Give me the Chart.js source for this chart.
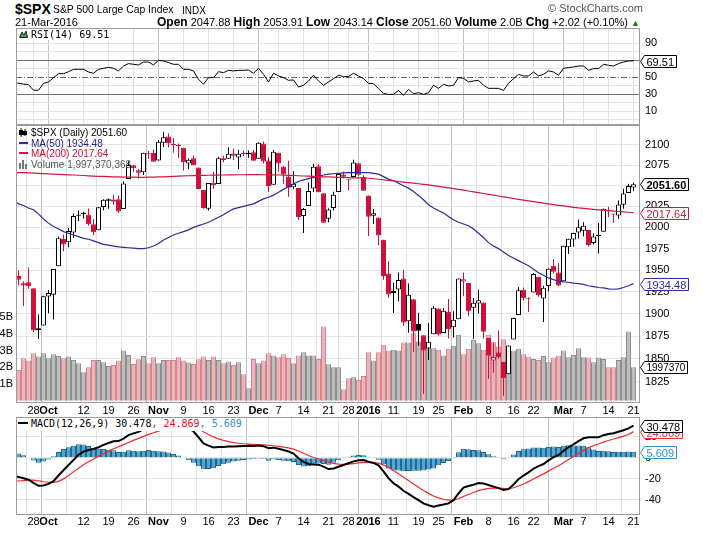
<!DOCTYPE html>
<html>
<head>
<meta charset="utf-8">
<title>$SPX</title>
<script src="https://cdn.jsdelivr.net/npm/chart.js@4.4.0/dist/chart.umd.min.js"></script>
<style>
  html, body { margin: 0; padding: 0; background: #fff; }
  body { position: relative; width: 703px; height: 534px; overflow: hidden;
         font-family: "Liberation Sans", Arial, sans-serif; color: #000; }
  canvas { position: absolute; left: 0; }
  .t { position: absolute; white-space: nowrap; line-height: 1; }
  .mono { position: absolute; white-space: nowrap; font-family: "DejaVu Sans Mono", monospace; font-size: 10px; line-height: 11px; }
  .leg { position: absolute; white-space: nowrap; font-size: 10px; line-height: 11px; }
  .dash { display: inline-block; width: 9px; height: 2px; vertical-align: middle; margin-right: 3px; position: relative; top: -1px; }
  svg { vertical-align: middle; position: relative; top: -1px; margin-right: 3px; }
</style>
</head>
<body>
<canvas id="rsi" width="703" height="100" style="top:26px"></canvas>
<canvas id="price" width="703" height="300" style="top:120px"></canvas>
<canvas id="macd" width="703" height="119" style="top:415px"></canvas>

<div class="t" style="left:15px;top:2px;font-size:14px;font-weight:bold">$SPX</div>
<div class="t" style="left:53px;top:5px;font-size:10.4px">S&amp;P 500 Large Cap Index</div>
<div class="t" style="left:182px;top:6px;font-size:10px">INDX</div>
<div class="t" style="left:548px;top:3px;font-size:11px;color:#555">&copy; StockCharts.com</div>
<div class="t" style="left:15px;top:17px;font-size:11px">21-Mar-2016</div>
<div class="t" style="left:157px;top:16px;font-size:11px"><b style="font-size:12px">Open</b> 2047.88 <b style="font-size:12px">High</b> 2053.91 <b style="font-size:12px">Low</b> 2043.14 <b style="font-size:12px">Close</b> 2051.60 <b style="font-size:12px">Volume</b> 2.0B <b style="font-size:12px">Chg</b> +2.02 (+0.10%) <span style="color:#1f7a1f;font-size:9px">&#9650;</span></div>

<div class="mono" style="left:19px;top:29px;background:#fff;padding-right:2px"><svg width="9" height="8"><path d="M0.5 7.5 L3 2 L5 5 L7 1 L8.5 7.5 Z" fill="#4c9a4c" stroke="#222" stroke-width="1"/></svg>RSI(14) 69.51</div>

<div class="leg" style="left:19px;top:127px"><svg width="9" height="9"><path d="M2 0 V9 M6 1 V8" stroke="#000"/><rect x="0.5" y="2.5" width="3" height="4" fill="#000" stroke="#000"/><rect x="4.5" y="3.5" width="3" height="3" fill="#000" stroke="#000"/></svg>$SPX (Daily) 2051.60</div>
<div class="leg" style="left:19px;top:138px;color:#23238f"><span class="dash" style="background:#2b2b9e"></span>MA(50) 1934.48</div>
<div class="leg" style="left:19px;top:148px;color:#cc1136"><span class="dash" style="background:#d6163c"></span>MA(200) 2017.64</div>
<div class="leg" style="left:19px;top:159px;color:#555"><svg width="9" height="9"><rect x="0" y="3" width="2" height="6" fill="#777"/><rect x="3" y="0" width="2" height="9" fill="#777"/><rect x="6" y="4" width="2" height="5" fill="#777"/></svg>Volume 1,997,370,368</div>

<div class="mono" style="left:17px;top:418px;height:13px;background:#fff;padding-right:3px"><span class="dash" style="background:#000;width:10px;margin-left:1px"></span>MACD(12,26,9) 30.478<span style="color:#e8101a">, 24.869</span><span style="color:#2f8fc4">, 5.609</span></div>

<script>
// trading days shown, Sep 22 2015 (clipped at the left edge) to Mar 21 2016
const MONTHS = [
  ['Sep', [22, 23, 24, 25, 28, 29, 30]],
  ['Oct', [1, 2, 5, 6, 7, 8, 9, 12, 13, 14, 15, 16, 19, 20, 21, 22, 23, 26, 27, 28, 29, 30]],
  ['Nov', [2, 3, 4, 5, 6, 9, 10, 11, 12, 13, 16, 17, 18, 19, 20, 23, 24, 25, 27, 30]],
  ['Dec', [1, 2, 3, 4, 7, 8, 9, 10, 11, 14, 15, 16, 17, 18, 21, 22, 23, 24, 28, 29, 30, 31]],
  ['Jan', [4, 5, 6, 7, 8, 11, 12, 13, 14, 15, 19, 20, 21, 22, 25, 26, 27, 28, 29]],
  ['Feb', [1, 2, 3, 4, 5, 8, 9, 10, 11, 12, 16, 17, 18, 19, 22, 23, 24, 25, 26, 29]],
  ['Mar', [1, 2, 3, 4, 7, 8, 9, 10, 11, 14, 15, 16, 17, 18, 21]]
];
const DATES = MONTHS.flatMap(([m, days]) => days.map(d => m + ' ' + d));

const TICK_DATES = ['Sep 28', 'Oct 1', 'Oct 12', 'Oct 19', 'Oct 26', 'Nov 2', 'Nov 9', 'Nov 16', 'Nov 23',
  'Dec 1', 'Dec 7', 'Dec 14', 'Dec 21', 'Dec 28', 'Jan 4', 'Jan 11', 'Jan 19', 'Jan 25', 'Feb 1', 'Feb 8',
  'Feb 16', 'Feb 22', 'Mar 1', 'Mar 7', 'Mar 14', 'Mar 21'];
const TICK_TEXT = ['28', 'Oct', '12', '19', '26', 'Nov', '9', '16', '23', 'Dec', '7', '14', '21', '28',
  '2016', '11', '19', '25', 'Feb', '8', '16', '22', 'Mar', '7', '14', '21'];
const MONTH_TICKS = ['Oct', 'Nov', 'Dec', '2016', 'Feb', 'Mar'];

const OPEN = [1961.39, 1943.24, 1934.81, 1935.93, 1929.18, 1881.90, 1887.14,
  1919.65, 1921.77, 1954.33, 1986.63, 1982.34, 1994.01, 2013.73, 2015.65, 2015.00, 2003.66, 1996.47, 2024.37, 2031.73, 2033.13, 2033.47, 2021.88, 2058.19, 2075.08, 2068.75, 2066.48, 2088.35, 2090.00,
  2080.76, 2102.63, 2110.60, 2101.68, 2098.60, 2096.56, 2077.19, 2083.41, 2072.29, 2044.64, 2022.08, 2053.67, 2051.99, 2083.70, 2082.82, 2089.41, 2084.42, 2089.30, 2088.82, 2090.95,
  2082.93, 2101.71, 2080.71, 2051.24, 2090.42, 2073.39, 2061.17, 2047.93, 2047.27, 2013.37, 2025.55, 2046.50, 2073.76, 2040.81, 2010.27, 2023.15, 2042.20, 2063.52, 2057.77, 2060.54, 2077.34, 2060.59,
  2038.20, 2013.78, 2011.71, 1985.32, 1945.97, 1926.12, 1927.83, 1940.34, 1891.68, 1916.68, 1888.66, 1876.18, 1861.46, 1877.40, 1906.28, 1878.79, 1902.52, 1885.22, 1894.00,
  1936.94, 1935.26, 1907.07, 1911.67, 1913.07, 1873.25, 1848.46, 1857.10, 1847.00, 1833.40, 1871.44, 1898.80, 1927.57, 1916.74, 1924.44, 1942.38, 1917.56, 1931.87, 1954.95, 1947.13,
  1937.09, 1976.60, 1985.60, 1994.01, 1996.11, 1996.88, 1981.44, 1990.97, 1994.71, 2019.27, 2015.27, 2014.24, 2026.90, 2041.16, 2047.88];
const HIGH = [1961.39, 1949.52, 1937.17, 1952.89, 1929.18, 1899.48, 1920.53,
  1927.21, 1951.36, 1989.17, 1991.62, 1999.31, 2016.50, 2020.13, 2018.66, 2022.34, 2009.56, 2024.15, 2033.54, 2034.45, 2039.12, 2037.97, 2055.20, 2079.74, 2075.14, 2070.37, 2090.35, 2092.52, 2094.32,
  2106.20, 2116.48, 2114.59, 2108.78, 2101.91, 2096.56, 2083.67, 2086.94, 2072.29, 2044.64, 2053.22, 2066.69, 2085.31, 2086.74, 2097.06, 2095.61, 2094.12, 2093.00, 2093.29, 2093.81,
  2103.37, 2104.27, 2085.00, 2093.84, 2090.42, 2073.85, 2080.33, 2067.65, 2047.27, 2022.92, 2053.87, 2076.72, 2076.37, 2040.81, 2022.90, 2042.74, 2064.73, 2067.36, 2057.77, 2081.56, 2077.34, 2062.54,
  2038.20, 2021.94, 2011.71, 1985.32, 1960.40, 1935.65, 1947.38, 1950.33, 1934.47, 1916.68, 1901.44, 1876.18, 1889.85, 1908.85, 1906.28, 1906.73, 1916.99, 1902.96, 1940.24,
  1947.20, 1935.26, 1918.01, 1927.35, 1913.07, 1873.25, 1868.25, 1881.60, 1847.00, 1864.78, 1895.77, 1930.68, 1930.00, 1918.78, 1946.70, 1942.38, 1932.08, 1951.83, 1962.96, 1958.27,
  1978.35, 1986.51, 1993.69, 2009.13, 2006.12, 1996.88, 1992.69, 2005.08, 2022.37, 2024.57, 2015.94, 2032.02, 2046.24, 2052.36, 2053.91];
const LOW = [1929.22, 1932.57, 1908.92, 1928.57, 1879.21, 1871.91, 1887.14,
  1900.70, 1893.70, 1954.33, 1971.99, 1976.44, 1987.53, 2007.61, 2010.55, 2001.78, 1990.73, 1996.47, 2020.46, 2022.31, 2026.61, 2017.22, 2021.88, 2058.19, 2066.53, 2058.84, 2063.11, 2082.63, 2079.34,
  2080.76, 2097.51, 2096.98, 2090.41, 2083.74, 2068.24, 2069.91, 2074.85, 2045.66, 2022.02, 2019.94, 2045.90, 2051.99, 2078.76, 2082.82, 2081.39, 2070.29, 2086.30, 2084.13, 2080.41,
  2082.93, 2077.11, 2042.35, 2051.24, 2066.78, 2052.32, 2036.53, 2045.67, 2008.80, 1993.26, 2025.55, 2042.43, 2041.66, 2005.33, 2005.93, 2020.49, 2042.20, 2058.73, 2044.20, 2060.54, 2061.97, 2043.62,
  1989.68, 2004.17, 1979.05, 1938.83, 1918.46, 1901.10, 1914.35, 1886.41, 1878.93, 1857.83, 1864.60, 1812.29, 1848.98, 1877.40, 1875.97, 1878.79, 1872.70, 1873.65, 1894.00,
  1920.03, 1897.29, 1872.23, 1900.52, 1872.65, 1828.46, 1834.94, 1850.32, 1810.10, 1833.40, 1871.44, 1898.80, 1915.09, 1902.17, 1924.44, 1919.44, 1891.00, 1925.41, 1945.78, 1931.81,
  1937.09, 1968.80, 1977.37, 1986.77, 1989.38, 1977.43, 1979.84, 1969.25, 1994.71, 2012.05, 2005.23, 2010.04, 2022.16, 2041.16, 2043.14];
const CLOSE = [1942.74, 1938.76, 1932.24, 1931.34, 1881.77, 1884.09, 1920.03,
  1923.82, 1951.36, 1987.05, 1979.92, 1995.83, 2013.43, 2014.89, 2017.46, 2003.69, 1994.24, 2023.86, 2033.11, 2033.66, 2030.77, 2018.94, 2052.51, 2075.15, 2071.18, 2065.89, 2090.35, 2089.41, 2079.36,
  2104.05, 2109.79, 2102.31, 2099.93, 2099.20, 2078.58, 2081.72, 2075.00, 2045.97, 2023.04, 2053.19, 2050.44, 2083.58, 2081.24, 2089.17, 2086.59, 2089.14, 2088.87, 2090.11, 2080.41,
  2102.63, 2079.51, 2049.62, 2091.69, 2077.07, 2063.59, 2047.62, 2052.23, 2012.37, 2021.94, 2043.41, 2073.07, 2041.89, 2005.55, 2021.15, 2038.97, 2064.29, 2060.99, 2056.50, 2078.36, 2063.36, 2043.94,
  2012.66, 2016.71, 1990.26, 1943.09, 1922.03, 1923.67, 1938.68, 1890.28, 1921.84, 1880.33, 1881.33, 1859.33, 1868.99, 1906.90, 1877.08, 1903.63, 1882.95, 1893.36, 1940.24,
  1939.38, 1903.03, 1912.53, 1915.45, 1880.05, 1853.44, 1852.21, 1851.86, 1829.08, 1864.78, 1895.58, 1926.82, 1917.83, 1917.78, 1945.50, 1921.27, 1929.80, 1951.70, 1948.05, 1932.23,
  1978.35, 1986.45, 1993.40, 1999.99, 2001.76, 1979.26, 1989.26, 1989.57, 2022.19, 2019.64, 2015.93, 2027.22, 2040.59, 2049.58, 2051.60];
// volume, billions of shares
const VOLUME = [2.9, 1.84, 2.54, 2.4, 2.84, 2.64, 2.84,
  2.54, 2.78, 2.68, 2.54, 2.64, 2.44, 2.24, 1.7, 2.0, 2.44, 2.44, 2.3, 2.08, 2.14, 2.4, 3.0, 2.74, 2.2, 2.48, 2.68, 2.24, 2.6,
  2.24, 2.44, 2.44, 2.44, 2.6, 2.4, 2.28, 2.2, 2.48, 2.64, 2.44, 2.64, 2.44, 2.24, 2.34, 2.14, 2.3, 1.58, 0.74, 2.5,
  2.24, 2.4, 2.84, 2.7, 2.6, 2.78, 2.56, 2.24, 2.7, 2.9, 2.7, 2.7, 2.5, 4.44, 2.18, 2.0, 2.0, 0.68, 1.34, 1.4, 1.24, 1.48,
  2.9, 2.4, 2.9, 3.34, 3.0, 3.04, 3.0, 3.48, 3.48, 4.04, 3.54, 3.84, 3.4, 3.14, 3.04, 2.7, 3.1, 3.28, 3.94,
  2.78, 3.1, 3.64, 3.44, 3.04, 3.94, 3.5, 3.24, 3.68, 2.9, 3.0, 3.1, 2.78, 2.64, 2.5, 2.44, 2.68, 2.3, 2.58, 2.7,
  3.0, 2.6, 2.74, 3.14, 2.6, 2.58, 2.3, 2.58, 2.5, 2.0, 2.0, 2.44, 2.6, 4.14, 1.99737];
const MA50 = [2033, 2028, 2026, 2023, 2021, 2016, 2010, 2005, 2001, 1998,
  1995, 1993, 1991, 1989, 1987, 1986, 1984, 1982, 1980, 1979,
  1978, 1977, 1976.5, 1976, 1975.5, 1975, 1975, 1976, 1978, 1981,
  1985, 1988, 1991, 1993, 1995, 1997, 2000, 2002, 2004, 2006,
  2009, 2012, 2015, 2019, 2022, 2023.5, 2025, 2026.5, 2028, 2031,
  2034, 2036, 2038.5, 2042, 2045.5, 2049, 2052, 2055, 2057, 2058.5,
  2060, 2061.5, 2063, 2064, 2064.5, 2065, 2065.5, 2066, 2066, 2066,
  2066, 2066, 2065, 2064, 2061, 2058, 2056, 2053, 2050, 2047,
  2043, 2038, 2033, 2027, 2023, 2020, 2017, 2013, 2009, 2006,
  2004, 2002, 1998, 1993, 1988, 1982, 1978, 1975, 1971, 1967,
  1964, 1961, 1958, 1955, 1951, 1947, 1944, 1941, 1939, 1937.5,
  1936.5, 1936, 1935, 1934.5, 1933.5, 1932, 1931, 1930, 1929.5, 1928.5,
  1928, 1928.5, 1930, 1932, 1934.48];
const MA200 = [2066, 2066, 2065.8, 2065.5, 2065.2, 2065, 2064.7, 2064.4, 2064.1, 2063.8,
  2063.5, 2063.2, 2063, 2062.7, 2062.4, 2062, 2061.7, 2061.4, 2061.2, 2061,
  2060.8, 2060.6, 2060.5, 2060.4, 2060.3, 2060.2, 2060.2, 2060.3, 2060.4, 2060.6,
  2060.8, 2061, 2061.3, 2061.6, 2061.9, 2062.1, 2062.3, 2062.5, 2062.6, 2062.7,
  2062.8, 2062.9, 2063, 2063.1, 2063.2, 2063.3, 2063.3, 2063.4, 2063.4, 2063.4,
  2063.3, 2063.2, 2063.1, 2063, 2062.8, 2062.6, 2062.4, 2062.1, 2061.8, 2061.6,
  2061.4, 2061.1, 2060.8, 2060.6, 2060.4, 2060.2, 2060, 2059.8, 2059.6, 2059.5,
  2059.4, 2059, 2058.4, 2057.8, 2057.2, 2056.5, 2055.8, 2055, 2054.4, 2053.7,
  2053, 2052.3, 2051.6, 2051, 2050.1, 2049.2, 2048.3, 2047.4, 2046.5, 2045.5,
  2044.5, 2043.5, 2042.5, 2041.5, 2040.5, 2039.5, 2038.5, 2037.5, 2036.5, 2035.5,
  2034.5, 2033.5, 2032.6, 2031.7, 2030.8, 2029.9, 2029, 2028, 2027.2, 2026.3,
  2025.5, 2024.7, 2023.9, 2023.1, 2022.5, 2021.9, 2021.4, 2020.9, 2020.4, 2019.9,
  2019.4, 2018.9, 2018.5, 2018, 2017.64];
const RSI = [44, 43, 42, 41.4, 34.8, 34.8, 42.9, 44.5, 49.6, 54.3,
  54.3, 56.6, 59.4, 59.4, 59.4, 56.3, 54.7, 59.4, 60.6, 61.8,
  60.6, 57.5, 63.3, 66.1, 65.3, 64.5, 68.0, 68.0, 64.5, 70.0,
  69.2, 67.3, 65.3, 65.3, 59.4, 59.4, 57.5, 47.7, 41.8, 49.6,
  49.6, 56.6, 55.5, 58.2, 57.5, 58.2, 58.2, 58.6, 54.7, 60.6,
  53.5, 44.5, 54.7, 51.6, 49.6, 46.5, 46.9, 38.6, 40.6, 45.7,
  52.4, 45.7, 40.6, 44.5, 48.4, 52.4, 50.8, 50.8, 54.7, 51.6,
  48.4, 42.9, 42.5, 36.6, 31.1, 29.9, 29.9, 34.6, 28.7, 35.8,
  30.7, 31.9, 29.9, 31.9, 40.6, 37.0, 41.8, 39.8, 40.6, 49.6,
  48.8, 44.5, 45.7, 46.5, 40.6, 37.0, 37.0, 37.0, 34.6, 42.9,
  48.4, 53.5, 51.6, 51.6, 56.3, 51.6, 53.5, 57.5, 56.3, 52.4,
  60.6, 61.4, 62.2, 63.3, 63.3, 58.2, 60.2, 60.2, 65.3, 64.1,
  63.3, 66.1, 68.0, 69.2, 69.51];
const MACD = [-17.5, -18.3, -19.5, -21.0, -24.0, -26.8, -26.5, -25.0, -22.3, -17.0,
  -12.0, -7.0, -2.2, 2.8, 5.8, 7.3, 8.3, 10.0, 12.2, 14.0,
  15.6, 15.9, 18.2, 21.5, 23.2, 24.6, 27.0, 29.5, 30.5, 31.5,
  33.0, 33.5, 33.5, 33.0, 31.5, 28.5, 25.0, 19.5, 13.7, 11.5,
  9.8, 10.2, 10.2, 10.6, 10.8, 11.0, 11.2, 11.4, 11.2, 11.6,
  11.0, 9.0, 9.6, 8.6, 7.3, 6.0, 4.0, -0.5, -4.0, -6.0,
  -6.5, -6.6, -8.5, -10.8, -10.2, -8.6, -7.0, -5.3, -3.5, -2.4,
  -2.2, -3.8, -5.0, -7.2, -13.0, -19.5, -24.4, -27.5, -31.5, -34.5,
  -37.5, -40.5, -43.5, -45.3, -46.7, -45.5, -44.6, -43.5, -40.5, -34.0,
  -28.5, -27.0, -25.8, -24.2, -24.6, -26.0, -27.6, -29.0, -30.8, -30.0,
  -25.5, -20.5, -17.0, -14.0, -10.5, -8.0, -6.0, -2.5, 0.5, 2.5,
  6.5, 10.0, 12.8, 15.8, 18.5, 19.4, 19.4, 19.4, 21.5, 22.6,
  23.3, 24.8, 26.2, 28.0, 30.478];
const SIGNAL = [-22.4, -22.2, -21.8, -21.4, -21.3, -22.0, -22.9, -23.4, -23.6, -22.5,
  -20.2, -17.0, -13.5, -10.0, -6.8, -3.8, -1.2, 1.5, 4.0, 6.5,
  8.5, 10.5, 12.5, 14.5, 16.5, 18.4, 20.3, 22.2, 23.8, 25.4,
  27.0, 28.6, 30.0, 31.0, 31.5, 31.0, 29.8, 27.6, 24.8, 22.2,
  19.8, 18.0, 16.5, 15.3, 14.4, 13.8, 13.3, 13.0, 12.7, 12.5,
  12.3, 11.8, 11.4, 10.8, 10.1, 9.3, 8.2, 6.4, 4.3, 2.1,
  0.2, -1.2, -2.6, -4.2, -5.4, -6.1, -6.3, -6.1, -5.6, -5.0,
  -4.5, -4.4, -4.6, -5.2, -6.8, -9.3, -12.3, -15.4, -18.6, -21.8,
  -25.0, -28.1, -31.2, -34.0, -36.5, -38.3, -39.6, -40.4, -40.4, -39.1,
  -37.0, -35.0, -33.2, -31.4, -30.1, -29.3, -29.0, -29.0, -29.3, -29.4,
  -28.6, -27.0, -25.0, -22.8, -20.3, -17.8, -15.4, -12.8, -10.1, -7.6,
  -4.8, -1.8, 1.1, 4.1, 7.0, 9.5, 11.5, 13.1, 14.8, 16.4,
  17.8, 19.2, 20.6, 22.1, 24.869];
const HIST = [4.9, 3.9, 2.3, 0.4, -2.7, -4.8, -3.6, -1.6, 1.3, 5.5,
  8.2, 10.0, 11.3, 12.8, 12.6, 11.1, 9.5, 8.5, 8.2, 7.5,
  7.1, 5.4, 5.7, 7.0, 6.7, 6.2, 6.7, 7.3, 6.7, 6.1,
  6.0, 4.9, 3.5, 2.0, 0.0, -2.5, -4.8, -8.1, -11.1, -10.7,
  -10.0, -7.8, -6.3, -4.7, -3.6, -2.8, -2.1, -1.6, -1.5, -0.9,
  -1.3, -2.8, -1.8, -2.2, -2.8, -3.3, -4.2, -6.9, -8.3, -8.1,
  -6.7, -5.4, -5.9, -6.6, -4.8, -2.5, -0.7, 0.8, 2.1, 2.6,
  2.3, 0.6, -0.4, -2.0, -6.2, -10.2, -12.1, -12.1, -12.9, -12.7,
  -12.5, -12.4, -12.3, -11.3, -10.2, -7.2, -5.0, -3.1, -0.1, 5.1,
  8.5, 8.0, 7.4, 7.2, 5.5, 3.3, 1.4, 0.0, -1.5, -0.6,
  3.1, 6.5, 8.0, 8.8, 9.8, 9.8, 9.4, 10.3, 10.6, 10.1,
  11.3, 11.8, 11.7, 11.7, 11.5, 9.9, 7.9, 6.3, 6.7, 6.2,
  5.5, 5.6, 5.6, 5.9, 5.609];

const PRICE_TICKS = [1825, 1850, 1875, 1900, 1925, 1950, 1975, 2000, 2025, 2050, 2075, 2100];
const VOLUME_TICKS = [1, 2, 3, 4, 5];
const RSI_TICKS = [0, 10, 20, 30, 40, 50, 60, 70, 80, 90];
const MACD_TICKS = [-40, -20, 0, 20];

const RED = '#d0103a';
const MA50_COLOR = '#2b2b9e';
const MA200_COLOR = '#d6163c';
const SIGNAL_COLOR = '#f22a2a';
const HIST_COLOR = '#2f8fc4';
const GRID = '#e3e3e3';
const GRID_MONTH = '#c2c2c2';
const FONT = '"Liberation Sans", Arial, sans-serif';

Chart.defaults.font.family = FONT;
Chart.defaults.font.size = 11;
Chart.defaults.color = '#000';

const X_MIN = 0.5, X_MAX = 125.3;
const tickIdx = TICK_DATES.map(d => DATES.indexOf(d));
const tickText = new Map(tickIdx.map((v, k) => [v, TICK_TEXT[k]]));
const isMonthTick = v => MONTH_TICKS.includes(tickText.get(v));
const pts = arr => arr.map((y, x) => ({ x, y }));

// fixed axis sizes so every panel lines up with the picture
const fixHeight = h => s => { s.height = h; s.paddingLeft = 0; s.paddingRight = 0; };
const fixWidth = w => s => { s.width = w; s.paddingTop = 0; s.paddingBottom = 0; };

function timeAxis(height, pad) {
  return {
    type: 'linear', min: X_MIN, max: X_MAX, offset: false,
    afterBuildTicks: s => { s.ticks = tickIdx.map(v => ({ value: v })); },
    afterFit: fixHeight(height),
    grid: { color: c => isMonthTick(c.tick && c.tick.value) ? GRID_MONTH : GRID, drawTicks: false },
    border: { display: false },
    ticks: {
      display: height > 0, autoSkip: false, maxRotation: 0, padding: pad, color: '#000',
      font: c => ({ size: 11, weight: isMonthTick(c.tick && c.tick.value) ? 'bold' : 'normal' }),
      callback: v => tickText.get(v) ?? ''
    }
  };
}

function valueAxis(ticks, min, max, extra) {
  return Object.assign({
    position: 'right', min, max,
    afterBuildTicks: s => { s.ticks = ticks.map(v => ({ value: v })); },
    afterFit: fixWidth(63),
    grid: { color: GRID, drawTicks: false },
    border: { display: false },
    ticks: { autoSkip: false, padding: 5, color: '#000', font: { size: 11 }, callback: v => String(v) }
  }, extra);
}

const framePlugin = {
  id: 'panelFrame',
  afterDatasetsDraw(chart) {
    const { ctx, chartArea: a } = chart;
    ctx.save();
    ctx.strokeStyle = '#9c9c9c';
    ctx.lineWidth = 1;
    ctx.strokeRect(a.left + 0.5, a.top + 0.5, a.width - 1, a.height - 1);
    ctx.restore();
  }
};

function tagPlugin(tags) {
  return {
    id: 'lastValueTags',
    afterDraw(chart) {
      const { ctx, chartArea } = chart;
      for (const t of tags) {
        const y = Math.round(chart.scales[t.axis].getPixelForValue(t.value)) + 0.5;
        ctx.save();
        ctx.font = (t.bold ? 'bold ' : '') + (t.size || 11) + 'px ' + FONT;
        const w = Math.ceil(ctx.measureText(t.text).width) + 4;
        const x0 = chartArea.right + 0.5, x1 = x0 + 4, h = 6;
        ctx.beginPath();
        ctx.moveTo(x0, y);
        ctx.lineTo(x1, y - h);
        ctx.lineTo(x1 + w, y - h);
        ctx.lineTo(x1 + w, y + h);
        ctx.lineTo(x1, y + h);
        ctx.closePath();
        ctx.fillStyle = '#fff';
        ctx.fill();
        ctx.lineWidth = 1;
        ctx.strokeStyle = t.color;
        ctx.stroke();
        ctx.fillStyle = t.color;
        ctx.textBaseline = 'middle';
        ctx.fillText(t.text, x1 + 2, y + 1);
        ctx.restore();
      }
    }
  };
}

const rsiMidline = {
  id: 'rsiMidline',
  beforeDatasetsDraw(chart) {
    const { ctx, chartArea: a } = chart;
    const y = Math.round(chart.scales.y.getPixelForValue(50)) + 0.5;
    ctx.save();
    ctx.strokeStyle = '#6a6a6a';
    ctx.lineWidth = 1;
    ctx.setLineDash([6, 2, 1, 2]);
    ctx.beginPath();
    ctx.moveTo(a.left, y);
    ctx.lineTo(a.right, y);
    ctx.stroke();
    ctx.restore();
  }
};

const baseOptions = padding => ({
  responsive: false, animation: false, devicePixelRatio: 1, events: [],
  layout: { autoPadding: false, padding },
  plugins: { legend: { display: false }, tooltip: { enabled: false } }
});

const last = arr => arr[arr.length - 1];

// RSI panel
new Chart(document.getElementById('rsi'), {
  type: 'line',
  data: {
    datasets: [{
      data: pts(RSI), borderColor: '#000', borderWidth: 1, pointRadius: 0, clip: 0
    }]
  },
  options: Object.assign(baseOptions({ top: 2, left: 16, right: 0, bottom: 1 }), {
    scales: {
      x: timeAxis(0, 0),
      y: valueAxis(RSI_TICKS, -6.1, 108, {
        grid: { color: c => ({ 30: '#707070', 70: '#707070', 50: 'rgba(0,0,0,0)' })[c.tick && c.tick.value] || GRID, drawTicks: false },
        ticks: { autoSkip: false, padding: 5, color: '#000', font: { size: 11 }, callback: v => (v / 10) % 2 === 1 ? String(v) : '' }
      })
    }
  }),
  plugins: [rsiMidline, framePlugin, tagPlugin([
    { axis: 'y', value: last(RSI), text: last(RSI).toFixed(2), color: '#000' }
  ])]
});

// price panel: volume, candles, moving averages
const downDay = CLOSE.map((c, i) => c < (i ? CLOSE[i - 1] : OPEN[i]));
const ink = downDay.map(d => d ? RED : '#000');
const hollow = CLOSE.map((c, i) => c >= OPEN[i]);

new Chart(document.getElementById('price'), {
  type: 'bar',
  data: {
    datasets: [
      {
        type: 'line', data: pts(MA200), yAxisID: 'y', borderColor: MA200_COLOR, borderWidth: 1.2,
        pointRadius: 0, clip: 0, order: 0
      },
      {
        type: 'line', data: pts(MA50), yAxisID: 'y', borderColor: MA50_COLOR, borderWidth: 1.2,
        pointRadius: 0, clip: 0, order: 0
      },
      {
        data: CLOSE.map((c, x) => ({ x, y: [Math.min(OPEN[x], c), Math.max(OPEN[x], c)] })),
        yAxisID: 'y', barThickness: 5, grouped: false, minBarLength: 1, inflateAmount: 0,
        backgroundColor: hollow.map((h, i) => h ? '#fff' : ink[i]),
        borderColor: ink, borderWidth: 1, borderSkipped: false, clip: 0, order: 1
      },
      {
        data: LOW.map((l, x) => ({ x, y: [l, HIGH[x]] })),
        yAxisID: 'y', barThickness: 1, grouped: false, inflateAmount: 0,
        backgroundColor: ink, borderWidth: 0, clip: 0, order: 2
      },
      {
        data: pts(VOLUME), yAxisID: 'vol', barThickness: 5, grouped: false, inflateAmount: 0,
        backgroundColor: downDay.map(d => d ? '#e7b6bb' : '#bdbdbd'),
        borderColor: downDay.map(d => d ? '#d9848e' : '#8e8e8e'),
        borderWidth: 1, clip: 0, order: 5
      }
    ]
  },
  options: Object.assign(baseOptions({ top: 5, left: 0, right: 0, bottom: 0 }), {
    scales: {
      x: timeAxis(17, 1),
      y: valueAxis(PRICE_TICKS, 1802.4, 2125.0, { type: 'logarithmic' }),
      vol: {
        type: 'linear', position: 'left', min: -0.14, max: 16.5,
        afterBuildTicks: s => { s.ticks = VOLUME_TICKS.map(v => ({ value: v })); },
        afterFit: fixWidth(16),
        grid: { display: false, drawTicks: false },
        border: { display: false },
        ticks: { autoSkip: false, padding: 3, color: '#000', font: { size: 11 }, callback: v => v + 'B' }
      }
    }
  }),
  plugins: [framePlugin, tagPlugin([
    { axis: 'y', value: last(MA200), text: last(MA200).toFixed(2), color: MA200_COLOR },
    { axis: 'y', value: last(CLOSE), text: last(CLOSE).toFixed(2), color: '#000', bold: true },
    { axis: 'y', value: last(MA50), text: last(MA50).toFixed(2), color: MA50_COLOR },
    { axis: 'vol', value: last(VOLUME), text: String(Math.round(last(VOLUME) * 1e6)), color: '#000', size: 10 }
  ])]
});

// MACD panel
new Chart(document.getElementById('macd'), {
  type: 'bar',
  data: {
    datasets: [
      {
        type: 'line', data: pts(MACD), borderColor: '#000', borderWidth: 2, pointRadius: 0, clip: 0, order: 0
      },
      {
        type: 'line', data: pts(SIGNAL), borderColor: SIGNAL_COLOR, borderWidth: 1.2, pointRadius: 0, clip: 0, order: 1
      },
      {
        data: pts(HIST), barThickness: 5, grouped: false, inflateAmount: 0,
        backgroundColor: '#55a5d2', borderColor: '#22698f', borderWidth: 1, clip: 0, order: 3
      }
    ]
  },
  options: Object.assign(baseOptions({ top: 2, left: 16, right: 0, bottom: 0 }), {
    scales: {
      x: timeAxis(19, 0),
      y: valueAxis(MACD_TICKS, -54.6, 38.8, {})
    }
  }),
  plugins: [framePlugin, tagPlugin([
    { axis: 'y', value: last(SIGNAL), text: last(SIGNAL).toFixed(3), color: SIGNAL_COLOR },
    { axis: 'y', value: last(HIST), text: last(HIST).toFixed(3), color: HIST_COLOR },
    { axis: 'y', value: last(MACD), text: last(MACD).toFixed(3), color: '#000' }
  ])]
});
</script>
</body>
</html>
